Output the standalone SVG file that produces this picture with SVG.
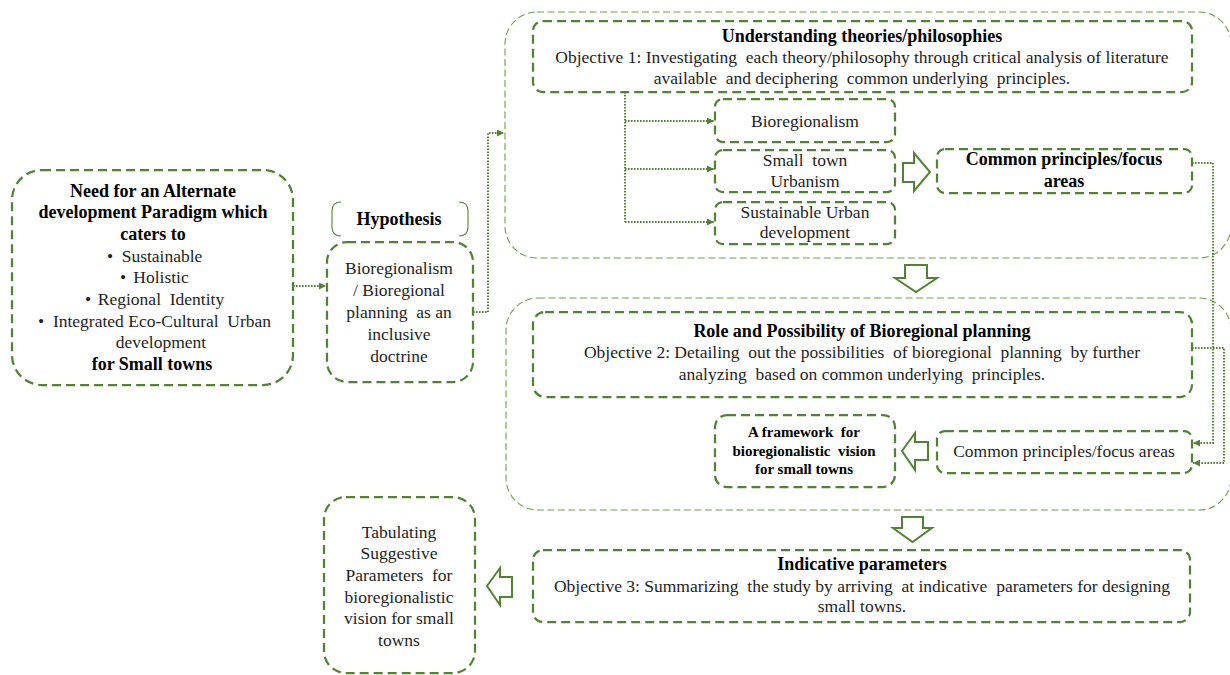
<svg xmlns="http://www.w3.org/2000/svg" width="1230" height="675" viewBox="0 0 1230 675">
  <style>
    .box { fill: none; stroke: #548235; stroke-width: 2.25; stroke-dasharray: 9 5; }
    .frame { fill: none; stroke: #70a048; stroke-width: 1.1; stroke-dasharray: 7 3.5; }
    .bracket { fill: none; stroke: #548235; stroke-width: 1.1; }
    .link { fill: none; stroke: #548235; stroke-width: 2; stroke-dasharray: 1.6 1.4; }
    .block { fill: #ffffff; stroke: #548235; stroke-width: 2; stroke-linejoin: miter; }
    text { font-family: "Liberation Serif", "Times New Roman", serif; fill: #1e1e1e; text-anchor: middle; white-space: pre; }
    .t { font-size: 17.5px; }
    .b { font-size: 18px; font-weight: bold; fill: #000; }
    .bs { font-size: 15px; font-weight: bold; fill: #000; }
  </style>
  <defs>
    <marker id="head" viewBox="0 0 10 10" refX="10" refY="5" markerWidth="7" markerHeight="7" markerUnits="userSpaceOnUse" orient="auto">
      <path d="M0,0 L10,5 L0,10 z" fill="#548235"/>
    </marker>
  </defs>

  <!-- outer frames -->
  <g id="frame-theories">
    <rect class="frame" x="505" y="12" width="726" height="246" rx="32"/>
  </g>
  <g id="frame-planning">
    <rect class="frame" x="506" y="298" width="725" height="212" rx="32"/>
  </g>

  <!-- connectors -->
  <g id="connectors">
    <path class="link" d="M293,286 H326" marker-end="url(#head)"/>
    <path class="link" d="M473,312 H488 V133 H504" marker-end="url(#head)"/>
    <path class="link" d="M625,92 V222"/>
    <path class="link" d="M625,121 H714" marker-end="url(#head)"/>
    <path class="link" d="M625,169 H714" marker-end="url(#head)"/>
    <path class="link" d="M625,222 H714" marker-end="url(#head)"/>
    <path class="link" d="M1192,163 H1213 V443 H1193" marker-end="url(#head)"/>
    <path class="link" d="M1192,348 H1224 V463 H1193" marker-end="url(#head)"/>
    <!-- hollow block arrows -->
    <path class="block" d="M903,163 H914 V153 L930,172 L914,191 V182 H903 Z"/>
    <path class="block" d="M905,265 H927 V278 H937 L916,292 L895,278 H905 Z"/>
    <path class="block" d="M928,442 H915 V433 L902,451 L915,470 V460 H928 Z"/>
    <path class="block" d="M902,517 H923 V528 H932 L912.5,542 L893,528 H902 Z"/>
    <path class="block" d="M512,577 H500 V568 L487,586 L500,605 V597 H512 Z"/>
  </g>

  <g id="need">
    <rect class="box" x="12" y="170" width="281" height="215" rx="30"/>
    <text class="b" x="153" y="197">Need for an Alternate</text>
    <text class="b" x="153" y="218">development Paradigm which</text>
    <text class="b" x="153" y="240">caters to</text>
    <text class="t" x="154" y="262"><tspan x="110">•</tspan><tspan x="162">Sustainable</tspan></text>
    <text class="t" x="154" y="283"><tspan x="123">•</tspan><tspan x="161">Holistic</tspan></text>
    <text class="t" x="154" y="305"><tspan x="88">•</tspan><tspan x="161">Regional  Identity</tspan></text>
    <text class="t" x="154" y="327"><tspan x="41">•</tspan><tspan x="162">Integrated Eco-Cultural  Urban</tspan></text>
    <text class="t" x="161" y="348">development</text>
    <text class="b" x="152" y="370">for Small towns</text>
  </g>

  <g id="hypothesis-label">
    <path class="bracket" d="M341,202 Q332,202 332,211 V227 Q332,236 341,236"/>
    <path class="bracket" d="M459,202 Q468,202 468,211 V227 Q468,236 459,236"/>
    <text class="b" x="399" y="225">Hypothesis</text>
  </g>

  <g id="hypothesis">
    <rect class="box" x="327" y="242" width="146" height="140" rx="20"/>
    <text class="t" x="399" y="274">Bioregionalism</text>
    <text class="t" x="399" y="296">/ Bioregional</text>
    <text class="t" x="399" y="318">planning  as an</text>
    <text class="t" x="399" y="340">inclusive</text>
    <text class="t" x="399" y="362">doctrine</text>
  </g>

  <g id="objective-1">
    <rect class="box" x="533" y="21" width="659" height="71" rx="10"/>
    <text class="b" x="862" y="42">Understanding theories/philosophies</text>
    <text class="t" x="862" y="63">Objective 1: Investigating  each theory/philosophy through critical analysis of literature</text>
    <text class="t" x="862" y="84">available  and deciphering  common underlying  principles.</text>
  </g>

  <g id="bioregionalism">
    <rect class="box" x="715" y="99" width="180" height="43" rx="8"/>
    <text class="t" x="805" y="127">Bioregionalism</text>
  </g>
  <g id="small-town">
    <rect class="box" x="715" y="150" width="180" height="42" rx="8"/>
    <text class="t" x="805" y="166">Small  town</text>
    <text class="t" x="805" y="187">Urbanism</text>
  </g>
  <g id="sustainable">
    <rect class="box" x="715" y="202" width="180" height="42" rx="8"/>
    <text class="t" x="805" y="218">Sustainable Urban</text>
    <text class="t" x="805" y="238">development</text>
  </g>

  <g id="common-1">
    <rect class="box" x="937" y="149" width="255" height="44" rx="8"/>
    <text class="b" x="1064" y="165">Common principles/focus</text>
    <text class="b" x="1064" y="187">areas</text>
  </g>

  <g id="objective-2">
    <rect class="box" x="533" y="312" width="659" height="85" rx="12"/>
    <text class="b" x="862" y="337">Role and Possibility of Bioregional planning</text>
    <text class="t" x="862" y="358">Objective 2: Detailing  out the possibilities  of bioregional  planning  by further</text>
    <text class="t" x="862" y="380">analyzing  based on common underlying  principles.</text>
  </g>

  <g id="framework">
    <rect class="box" x="715" y="415" width="180" height="72" rx="12"/>
    <text class="bs" x="804" y="437">A framework  for</text>
    <text class="bs" x="804" y="456">bioregionalistic  vision</text>
    <text class="bs" x="804" y="474">for small towns</text>
  </g>

  <g id="common-2">
    <rect class="box" x="937" y="431" width="255" height="42" rx="8"/>
    <text class="t" x="1064" y="457">Common principles/focus areas</text>
  </g>

  <g id="objective-3">
    <rect class="box" x="533" y="550" width="657" height="72" rx="10"/>
    <text class="b" x="862" y="570">Indicative parameters</text>
    <text class="t" x="862" y="592">Objective 3: Summarizing  the study by arriving  at indicative  parameters for designing</text>
    <text class="t" x="862" y="612">small towns.</text>
  </g>

  <g id="tabulating">
    <rect class="box" x="324" y="497" width="151" height="176" rx="22"/>
    <text class="t" x="399" y="538">Tabulating</text>
    <text class="t" x="399" y="559">Suggestive</text>
    <text class="t" x="399" y="581">Parameters  for</text>
    <text class="t" x="399" y="603">bioregionalistic</text>
    <text class="t" x="399" y="624">vision for small</text>
    <text class="t" x="399" y="646">towns</text>
  </g>
</svg>
